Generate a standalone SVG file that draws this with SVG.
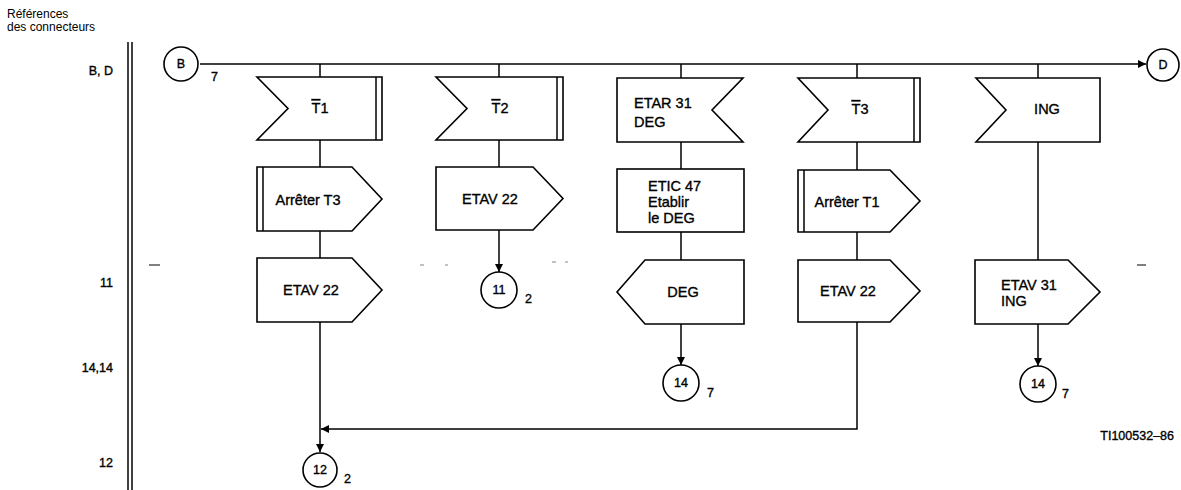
<svg xmlns="http://www.w3.org/2000/svg" width="1181" height="490" viewBox="0 0 1181 490">
<defs>
<style>
.s{fill:#fff;stroke:#000;stroke-width:1.6}
.l{fill:none;stroke:#000;stroke-width:1.5}
.t{font-family:"Liberation Sans",Arial,sans-serif;font-size:14.5px;fill:#000;stroke:#000;stroke-width:0.35}
.m{text-anchor:middle}
.r{text-anchor:end}
.sm{font-family:"Liberation Sans",Arial,sans-serif;font-size:12px;fill:#000}
.c{font-family:"Liberation Sans",Arial,sans-serif;font-size:12.5px;fill:#000;stroke:#000;stroke-width:0.35}
.ol{text-decoration:overline}
.d{stroke:#999;stroke-width:1.2}
</style>
<marker id="ar" viewBox="0 0 10 10" refX="10" refY="5" markerWidth="8" markerHeight="8" markerUnits="userSpaceOnUse" orient="auto">
<path d="M0,0 L10,5 L0,10 Z" fill="#000"/>
</marker>
</defs>
<rect width="1181" height="490" fill="#fff"/>

<g id="legend">
<text class="sm" x="7" y="18">Références</text>
<text class="sm" x="7" y="31">des connecteurs</text>
<line x1="128" y1="42" x2="128" y2="490" class="l"/>
<line x1="132" y1="42" x2="132" y2="490" class="l"/>
<text class="c r" x="113" y="75">B, D</text>
<text class="c r" x="113" y="287">11</text>
<text class="c r" x="113" y="372">14,14</text>
<text class="c r" x="113" y="467">12</text>
</g>

<g id="artifacts">
<line x1="149" y1="265" x2="160" y2="265" stroke="#000" stroke-width="1"/>
<line x1="420" y1="265" x2="424" y2="265" class="d"/>
<line x1="445" y1="265" x2="448" y2="265" class="d"/>
<line x1="552" y1="262" x2="556" y2="262" class="d"/>
<line x1="565" y1="262" x2="568" y2="262" class="d"/>
<line x1="1137" y1="265" x2="1146" y2="265" stroke="#000" stroke-width="1"/>
</g>

<g id="connectors">
<line x1="200" y1="64" x2="1146" y2="64" class="l" marker-end="url(#ar)"/>
<line x1="320" y1="64" x2="320" y2="77" class="l"/>
<line x1="499" y1="64" x2="499" y2="77" class="l"/>
<line x1="681" y1="64" x2="681" y2="78" class="l"/>
<line x1="857" y1="64" x2="857" y2="78" class="l"/>
<line x1="1038" y1="64" x2="1038" y2="78" class="l"/>
<line x1="320" y1="140" x2="320" y2="167" class="l"/>
<line x1="320" y1="231" x2="320" y2="258" class="l"/>
<line x1="320" y1="322" x2="320" y2="452" class="l" marker-end="url(#ar)"/>
<line x1="499" y1="140" x2="499" y2="167" class="l"/>
<line x1="499" y1="230" x2="499" y2="272" class="l" marker-end="url(#ar)"/>
<line x1="681" y1="142" x2="681" y2="169" class="l"/>
<line x1="681" y1="232" x2="681" y2="260" class="l"/>
<line x1="681" y1="324" x2="681" y2="365" class="l" marker-end="url(#ar)"/>
<line x1="857" y1="142" x2="857" y2="170" class="l"/>
<line x1="857" y1="232" x2="857" y2="260" class="l"/>
<polyline points="857,322 857,429 321,429" class="l" marker-end="url(#ar)"/>
<line x1="1038" y1="142" x2="1038" y2="260" class="l"/>
<line x1="1038" y1="324" x2="1038" y2="366" class="l" marker-end="url(#ar)"/>
</g>

<g id="conn-B">
<circle cx="181" cy="64" r="17" class="s"/>
<text class="c m" x="181" y="68">B</text>
<text class="c" x="211" y="81">7</text>
</g>
<g id="conn-D">
<circle cx="1163" cy="65" r="16" class="s"/>
<text class="c m" x="1163" y="69">D</text>
</g>

<g id="in-T1">
<path d="M257,77 H382 V140 H257 L288,108.5 Z" class="s"/>
<line x1="376" y1="77" x2="376" y2="140" class="l"/>
<text class="t m" x="320" y="113"><tspan class="ol">T</tspan>1</text>
</g>
<g id="in-T2">
<path d="M436,77 H563 V140 H436 L467,108.5 Z" class="s"/>
<line x1="557" y1="77" x2="557" y2="140" class="l"/>
<text class="t m" x="500" y="113"><tspan class="ol">T</tspan>2</text>
</g>
<g id="in-ETAR31">
<path d="M617,78 H743 L712,110 L743,142 H617 Z" class="s"/>
<text class="t" x="634" y="108">ETAR 31</text>
<text class="t" x="634" y="127">DEG</text>
</g>
<g id="in-T3">
<path d="M798,78 H920 V142 H798 L828,110 Z" class="s"/>
<line x1="914" y1="78" x2="914" y2="142" class="l"/>
<text class="t m" x="860" y="114"><tspan class="ol">T</tspan>3</text>
</g>
<g id="in-ING">
<path d="M976,78 H1100 V142 H976 L1006,110 Z" class="s"/>
<text class="t m" x="1047" y="114">ING</text>
</g>

<g id="out-arreterT3">
<path d="M257,167 H352 L382,199 L352,231 H257 Z" class="s"/>
<line x1="263" y1="167" x2="263" y2="231" class="l"/>
<text class="t m" x="308" y="205">Arrêter T3</text>
</g>
<g id="out-ETAV22-1">
<path d="M257,258 H352 L382,290 L352,322 H257 Z" class="s"/>
<text class="t m" x="311" y="295">ETAV 22</text>
</g>
<g id="out-ETAV22-2">
<path d="M436,167 H533 L563,198.5 L533,230 H436 Z" class="s"/>
<text class="t m" x="490" y="204">ETAV 22</text>
</g>
<g id="conn-11">
<circle cx="499" cy="290" r="18" class="s"/>
<text class="c m" x="499" y="294">11</text>
<text class="c" x="525" y="303">2</text>
</g>
<g id="task-ETIC47">
<rect x="617" y="169" width="127" height="63" class="s"/>
<text class="t" x="648" y="191">ETIC 47</text>
<text class="t" x="648" y="207">Etablir</text>
<text class="t" x="648" y="223">le DEG</text>
</g>
<g id="out-DEG">
<path d="M645,260 H744 V324 H645 L617,292 Z" class="s"/>
<text class="t m" x="683" y="297">DEG</text>
</g>
<g id="conn-14a">
<circle cx="681" cy="383" r="18" class="s"/>
<text class="c m" x="681" y="387">14</text>
<text class="c" x="707" y="397">7</text>
</g>
<g id="out-arreterT1">
<path d="M798,170 H890 L920,201 L890,232 H798 Z" class="s"/>
<line x1="804" y1="170" x2="804" y2="232" class="l"/>
<text class="t m" x="847" y="207">Arrêter T1</text>
</g>
<g id="out-ETAV22-4">
<path d="M798,260 H890 L920,291 L890,322 H798 Z" class="s"/>
<text class="t m" x="848" y="296">ETAV 22</text>
</g>
<g id="out-ETAV31">
<path d="M975,260 H1068 L1100,292 L1068,324 H975 Z" class="s"/>
<text class="t" x="1001" y="290">ETAV 31</text>
<text class="t" x="1001" y="306">ING</text>
</g>
<g id="conn-14b">
<circle cx="1038" cy="384" r="18" class="s"/>
<text class="c m" x="1038" y="388">14</text>
<text class="c" x="1062" y="398">7</text>
</g>
<g id="conn-12">
<circle cx="320" cy="470" r="17" class="s"/>
<text class="c m" x="320" y="474">12</text>
<text class="c" x="344" y="483">2</text>
</g>
<text class="c r" x="1174" y="440">TI100532–86</text>
</svg>
